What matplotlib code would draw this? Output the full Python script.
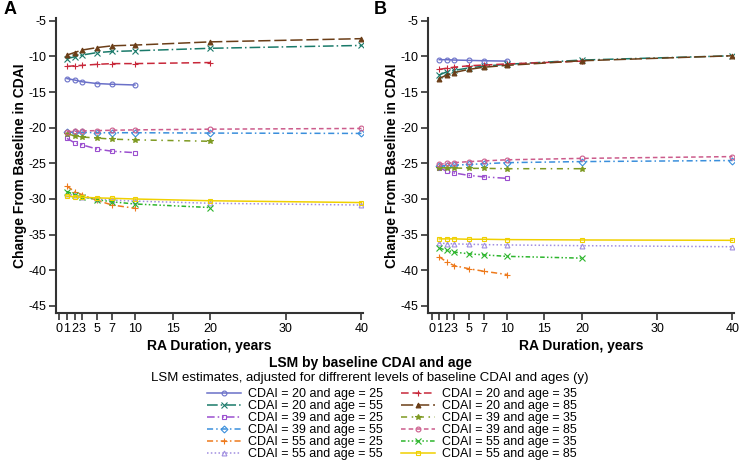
import matplotlib
matplotlib.use("Agg")
import matplotlib.pyplot as plt

plt.rcParams['font.family'] = ['Liberation Sans', 'DejaVu Sans']
plt.rcParams['axes.unicode_minus'] = False

# Durations (years) for each age group
x_age25 = [1, 2, 3, 5, 7, 10]
x_age35 = [1, 2, 3, 5, 7, 10, 20]
x_age55 = [1, 2, 3, 5, 7, 10, 20, 40]
x_age85 = [1, 2, 3, 5, 7, 10, 20, 40]

# Panel A values
a_20_25 = [-13.1, -13.3, -13.55, -13.8, -13.9, -14.0]
a_20_35 = [-11.4, -11.3, -11.25, -11.1, -11.0, -11.0, -10.85]
a_20_55 = [-10.3, -10.05, -9.8, -9.45, -9.3, -9.2, -8.85, -8.45]
a_20_85 = [-9.8, -9.45, -9.1, -8.75, -8.5, -8.4, -7.95, -7.5]
a_39_25 = [-21.5, -22.1, -22.4, -23.0, -23.3, -23.5]
a_39_35 = [-20.9, -21.1, -21.3, -21.45, -21.6, -21.7, -21.9]
a_39_55 = [-20.6, -20.65, -20.65, -20.7, -20.7, -20.7, -20.75, -20.8]
a_39_85 = [-20.55, -20.5, -20.45, -20.4, -20.35, -20.3, -20.2, -20.1]
a_55_25 = [-28.2, -28.95, -29.4, -30.2, -30.85, -31.3]
a_55_35 = [-28.95, -29.4, -29.7, -30.1, -30.4, -30.7, -31.2]
a_55_55 = [-29.3, -29.5, -29.75, -30.0, -30.15, -30.3, -30.6, -30.85]
a_55_85 = [-29.6, -29.7, -29.75, -29.85, -29.9, -30.0, -30.25, -30.5]

# Panel B values
b_20_25 = [-10.45, -10.45, -10.5, -10.55, -10.6, -10.65]
b_20_35 = [-11.8, -11.65, -11.5, -11.3, -11.2, -11.05, -10.65]
b_20_55 = [-12.6, -12.15, -11.95, -11.6, -11.35, -11.1, -10.5, -9.9]
b_20_85 = [-13.1, -12.6, -12.25, -11.8, -11.5, -11.25, -10.6, -9.9]
b_39_25 = [-25.6, -26.1, -26.35, -26.7, -26.9, -27.1]
b_39_35 = [-25.6, -25.65, -25.65, -25.7, -25.7, -25.75, -25.75]
b_39_55 = [-25.4, -25.3, -25.25, -25.15, -25.05, -24.9, -24.75, -24.6]
b_39_85 = [-25.15, -25.0, -24.9, -24.75, -24.65, -24.5, -24.3, -24.05]
b_55_25 = [-38.1, -38.85, -39.35, -39.8, -40.15, -40.6]
b_55_35 = [-36.9, -37.2, -37.45, -37.7, -37.85, -38.05, -38.3]
b_55_55 = [-36.2, -36.25, -36.3, -36.35, -36.4, -36.45, -36.55, -36.7]
b_55_85 = [-35.6, -35.6, -35.6, -35.65, -35.65, -35.7, -35.75, -35.8]

labels = ["CDAI = 20 and age = 25", "CDAI = 20 and age = 55",
          "CDAI = 39 and age = 25", "CDAI = 39 and age = 55",
          "CDAI = 55 and age = 25", "CDAI = 55 and age = 55",
          "CDAI = 20 and age = 35", "CDAI = 20 and age = 85",
          "CDAI = 39 and age = 35", "CDAI = 39 and age = 85",
          "CDAI = 55 and age = 35", "CDAI = 55 and age = 85"]

xticks = [0, 1, 2, 3, 5, 7, 10, 15, 20, 30, 40]
yticks = [-5, -10, -15, -20, -25, -30, -35, -40, -45]

# style per series: color, linestyle, marker, filled
styles = [
    ('#6a70c8', '-', 'o', False),
    ('#1a7a6a', (0, (7, 2, 1, 2)), 'x', False),
    ('#9b4fcf', (0, (5, 2, 1, 2, 1, 2)), 's', False),
    ('#3a8fdc', (0, (4, 2, 1, 2)), 'D', False),
    ('#ee7a1c', (0, (4, 2, 1, 2)), '+', False),
    ('#a08ee0', (0, (1, 1.5)), '^', False),
    ('#c8283a', (0, (5, 2.5)), '+', False),
    ('#6b3e18', (0, (8, 2.5)), '^', True),
    ('#7e9a22', (0, (4, 3, 1, 3)), '*', True),
    ('#cc5c8c', (0, (3, 2)), 'o', False),
    ('#2cb52c', (0, (3, 1.5, 1, 1.5, 1, 1.5)), 'x', False),
    ('#f0d000', '-', 's', False),
]

data_a = [(x_age25, a_20_25), (x_age55, a_20_55), (x_age25, a_39_25), (x_age55, a_39_55),
          (x_age25, a_55_25), (x_age55, a_55_55), (x_age35, a_20_35), (x_age85, a_20_85),
          (x_age35, a_39_35), (x_age85, a_39_85), (x_age35, a_55_35), (x_age85, a_55_85)]
data_b = [(x_age25, b_20_25), (x_age55, b_20_55), (x_age25, b_39_25), (x_age55, b_39_55),
          (x_age25, b_55_25), (x_age55, b_55_55), (x_age35, b_20_35), (x_age85, b_20_85),
          (x_age35, b_39_35), (x_age85, b_39_85), (x_age35, b_55_35), (x_age85, b_55_85)]

fig = plt.figure(figsize=(7.4, 4.63), dpi=100)
ax_a = fig.add_axes([56 / 740, 150 / 463, 307 / 740, 295 / 463])
ax_b = fig.add_axes([428 / 740, 150 / 463, 306 / 740, 295 / 463])

handles = []
for ax, data, xmin in [(ax_a, data_a, -0.45), (ax_b, data_b, -0.49)]:
    for (xs, ys), (col, ls, mk, filled) in zip(data, styles):
        ln, = ax.plot(xs, ys, color=col, linestyle=ls, linewidth=1.1, marker=mk,
                      markersize=3.5 if mk not in ('+', 'x', '*') else 4.3,
                      markerfacecolor=col if filled else 'none',
                      markeredgecolor=col, markeredgewidth=0.8)
        if ax is ax_a:
            handles.append(ln)
    ax.set_xlim(xmin, 40.2)
    ax.set_ylim(-46, -4.6)
    ax.set_xticks(xticks)
    ax.set_yticks(yticks)
    ax.tick_params(labelsize=9, length=5, width=1.2, color='#333333', pad=2)
    for side in ('top', 'right'):
        ax.spines[side].set_visible(False)
    for side in ('left', 'bottom'):
        ax.spines[side].set_linewidth(1.5)
        ax.spines[side].set_color('#333333')
    ax.set_xlabel('RA Duration, years', fontsize=10, fontweight='bold', labelpad=3)
    ax.set_ylabel('Change From Baseline in CDAI', fontsize=10, fontweight='bold',
                  va='center')
    ax.yaxis.set_label_coords(-0.118, 0.5)

fig.text(4 / 740, 1 - 9 / 463, 'A', fontsize=13, fontweight='bold', va='center')
fig.text(374 / 740, 1 - 9 / 463, 'B', fontsize=13, fontweight='bold', va='center')

fig.text(0.5, 1 - 363 / 463, 'LSM by baseline CDAI and age', ha='center', va='center',
         fontsize=10, fontweight='bold')
fig.text(0.5, 1 - 378 / 463,
         'LSM estimates, adjusted for diffrerent levels of baseline CDAI and ages (y)',
         ha='center', va='center', fontsize=9.5)

fig.legend(handles, labels, ncol=2, loc='upper left', bbox_to_anchor=(207 / 740, 1 - 388 / 463),
           frameon=False, fontsize=9, handlelength=2.7, labelspacing=0.0,
           columnspacing=1.5, handletextpad=0.55, borderpad=0, borderaxespad=0)

fig.savefig('out.png', dpi=100)
